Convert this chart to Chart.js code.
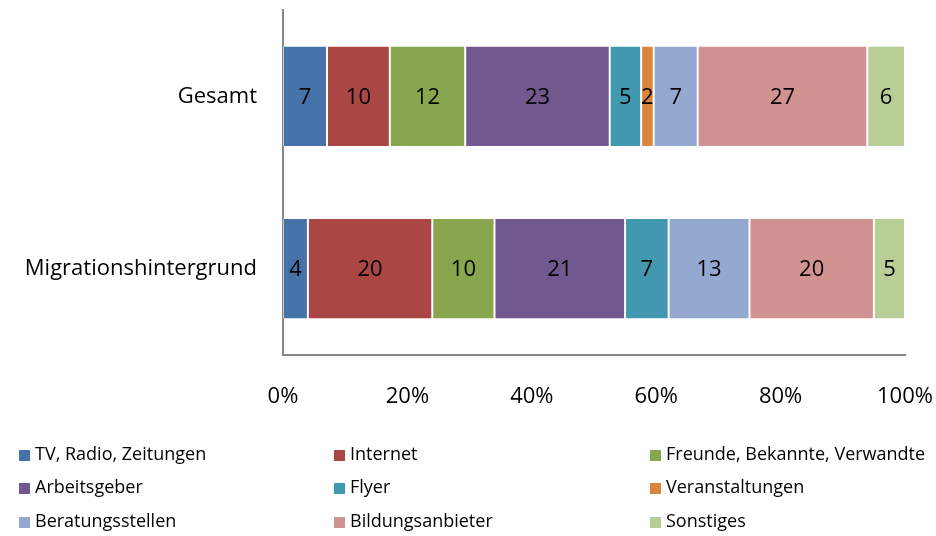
<!DOCTYPE html>
<html>
<head>
<meta charset="utf-8">
<script src="https://cdn.jsdelivr.net/npm/chart.js@4"></script>
<style>
  html, body { margin: 0; padding: 0; background: #fff; }
  #wrap { width: 936px; height: 536px; }
</style>
</head>
<body>
<div id="wrap"><canvas id="chart" width="936" height="536"></canvas></div>
<script>
// categories and series
const groups = ["Gesamt", "Migrationshintergrund"];
const sources = ["TV, Radio, Zeitungen", "Internet", "Freunde, Bekannte, Verwandte",
  "Arbeitsgeber", "Flyer", "Veranstaltungen", "Beratungsstellen", "Bildungsanbieter", "Sonstiges"];
const gesamt = [7, 10, 12, 23, 5, 2, 7, 27, 6];
const migration = [4, 20, 10, 21, 7, 0, 13, 20, 5];
const colors = ["#4572A7", "#AA4643", "#89A54E", "#71588F", "#4198AF",
  "#DB843D", "#93A9CF", "#D19392", "#B9CD96"];
const xTicks = [0, 20, 40, 60, 80, 100];

const FONT = "'Open Sans'";
const sumG = gesamt.reduce((a, b) => a + b, 0);
const sumM = migration.reduce((a, b) => a + b, 0);

const datasets = sources.map((name, i) => ({
  label: name,
  raw: [gesamt[i], migration[i]],
  data: [gesamt[i] / sumG * 100, migration[i] / sumM * 100],
  backgroundColor: colors[i],
  borderColor: "rgba(255,255,255,0.55)",
  borderWidth: { left: 1, right: 1, top: 0, bottom: 0 },
  borderSkipped: false,
  barPercentage: 0.9,
  categoryPercentage: 0.64
}));

// numbers inside the segments
const segLabels = {
  id: "segLabels",
  afterDatasetsDraw(chart) {
    const ctx = chart.ctx;
    ctx.save();
    ctx.font = "22px " + FONT;
    ctx.fillStyle = "#000";
    ctx.textAlign = "center";
    ctx.textBaseline = "middle";
    chart.data.datasets.forEach((ds, di) => {
      chart.getDatasetMeta(di).data.forEach((bar, j) => {
        const v = ds.raw[j];
        if (!v) return;
        ctx.fillText(String(v), (bar.x + bar.base) / 2, bar.y + 1);
      });
    });
    ctx.restore();
  }
};

// legend in three columns under the plot
const gridLegend = {
  id: "gridLegend",
  afterDraw(chart) {
    const ctx = chart.ctx;
    const colX = [19, 334, 650];
    const rowY = [455, 488, 522];
    ctx.save();
    ctx.font = "18px " + FONT;
    ctx.textBaseline = "middle";
    ctx.textAlign = "left";
    chart.data.datasets.forEach((ds, i) => {
      const x = colX[i % 3];
      const y = rowY[Math.floor(i / 3)];
      ctx.fillStyle = ds.backgroundColor;
      ctx.fillRect(x, y - 5, 11, 11);
      ctx.fillStyle = "#000";
      ctx.fillText(ds.label, x + 16, y);
    });
    ctx.restore();
  }
};

new Chart(document.getElementById("chart"), {
  type: "bar",
  data: { labels: groups, datasets: datasets },
  options: {
    indexAxis: "y",
    responsive: false,
    animation: false,
    layout: { padding: { top: 10, right: 31, bottom: 0, left: 10 } },
    plugins: {
      legend: { display: false },
      tooltip: { enabled: false }
    },
    scales: {
      x: {
        stacked: true,
        min: 0,
        max: 100,
        afterBuildTicks(axis) { axis.ticks = xTicks.map(v => ({ value: v })); },
        afterFit(scale) {
          scale.height = 181;
          scale.paddingLeft = 0;
          scale.paddingRight = 0;
        },
        grid: { display: false, drawTicks: false },
        border: { color: "#868686", width: 2 },
        ticks: {
          padding: 29,
          color: "#000",
          maxRotation: 0,
          font: { family: FONT, size: 22 },
          callback: v => v + "%"
        }
      },
      y: {
        stacked: true,
        afterFit(scale) {
          scale.width = 273;
          scale.paddingTop = 0;
          scale.paddingBottom = 0;
        },
        grid: { display: false, drawTicks: false },
        border: { color: "#868686", width: 2 },
        ticks: {
          padding: 26,
          color: "#000",
          font: { family: FONT, size: 22 }
        }
      }
    }
  },
  plugins: [segLabels, gridLegend]
});
</script>
</body>
</html>
